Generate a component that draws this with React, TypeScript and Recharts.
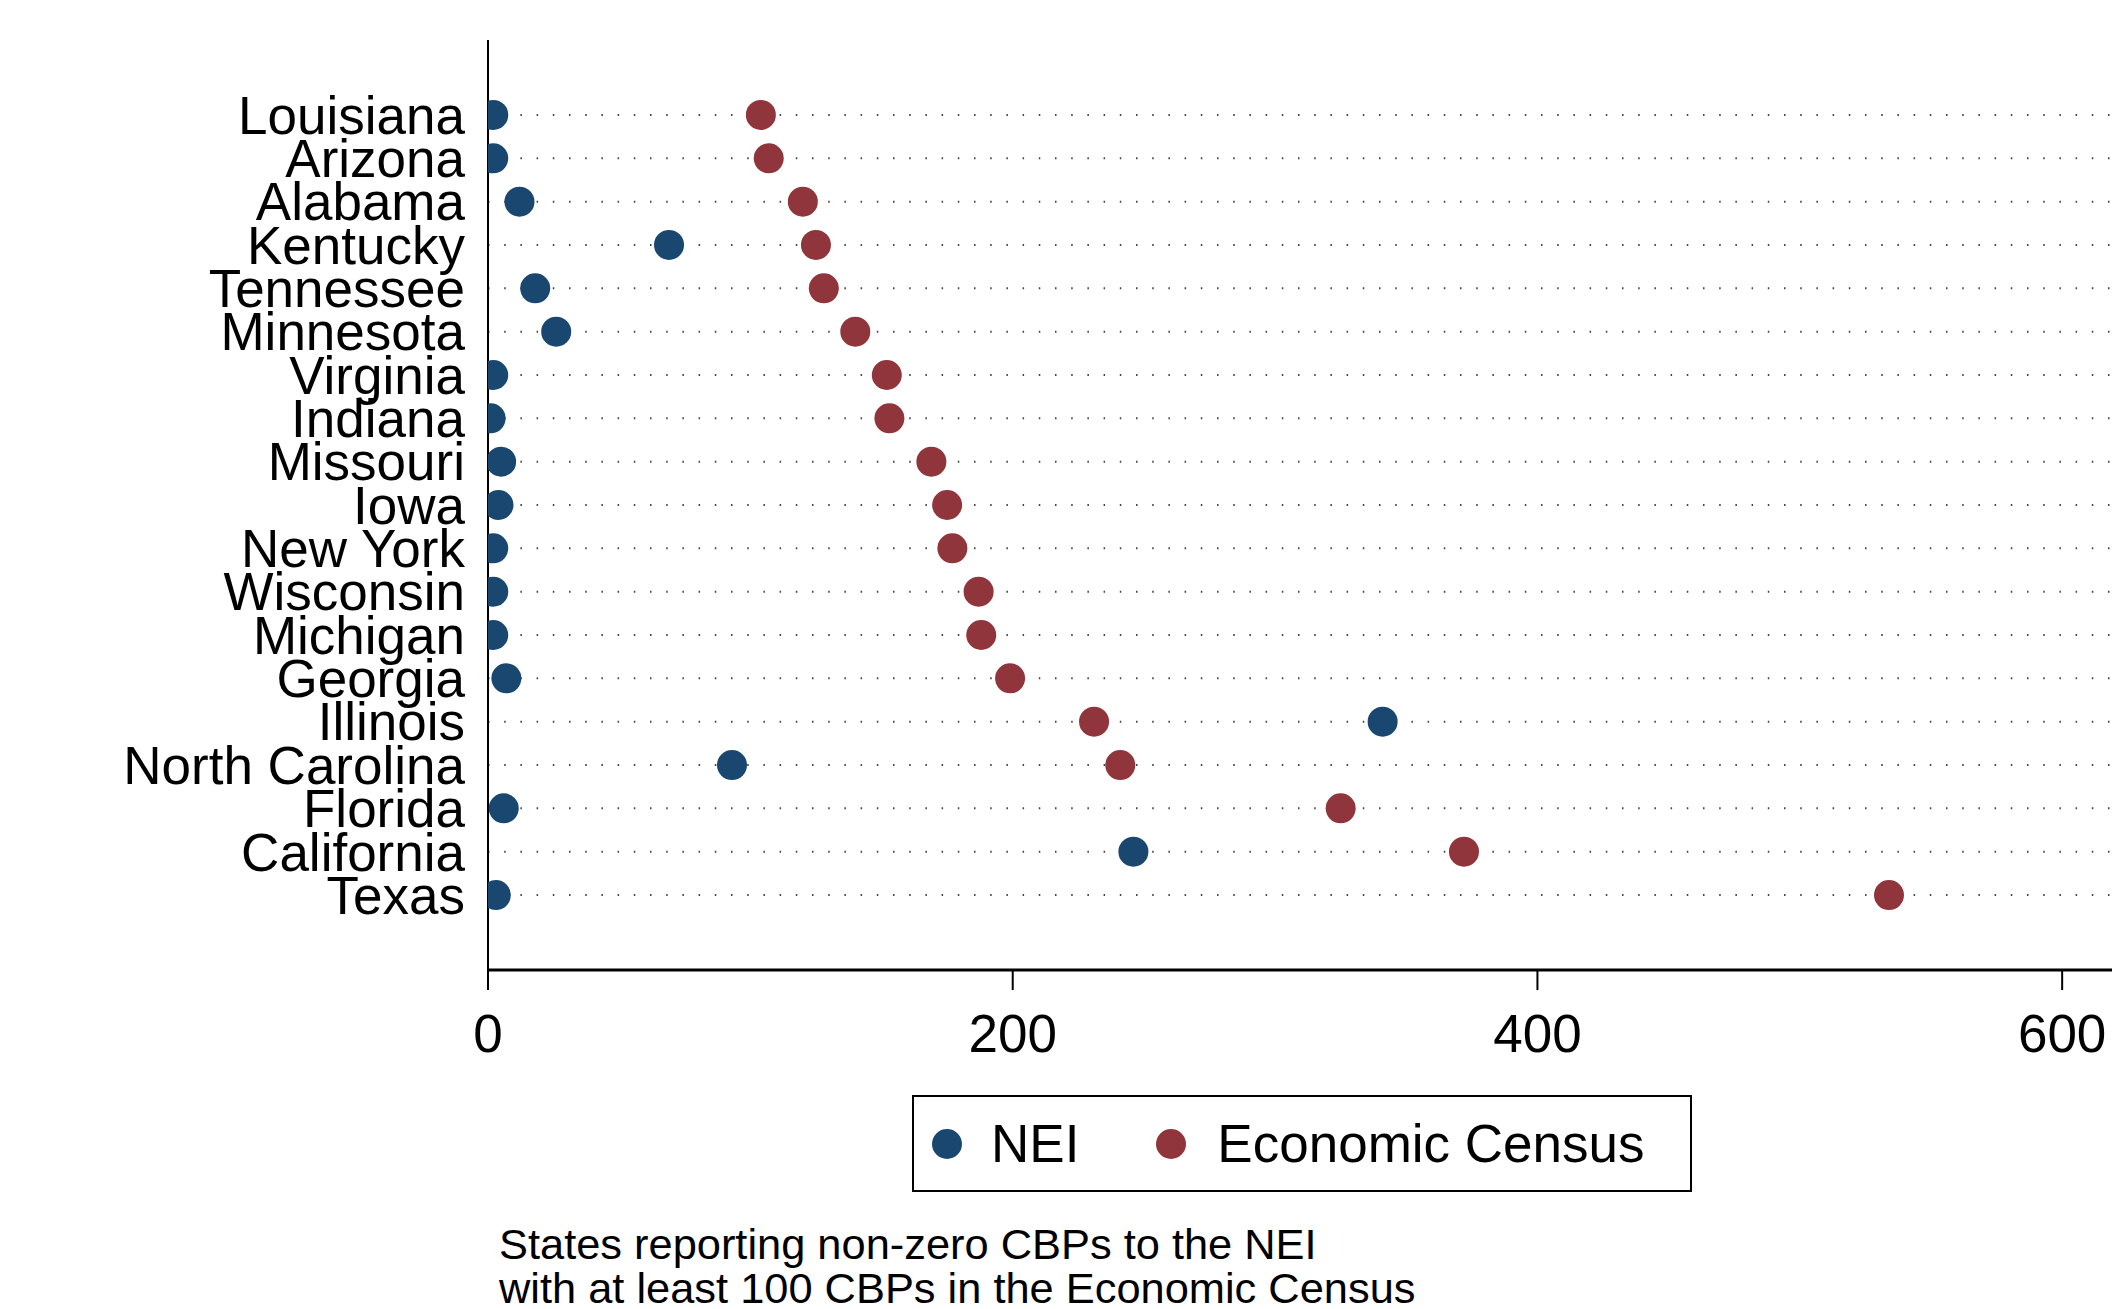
import React from "react";
import {
  ScatterChart,
  Scatter,
  XAxis,
  YAxis,
  ReferenceLine,
  Legend,
} from "recharts";

const states = [
  "Louisiana",
  "Arizona",
  "Alabama",
  "Kentucky",
  "Tennessee",
  "Minnesota",
  "Virginia",
  "Indiana",
  "Missouri",
  "Iowa",
  "New York",
  "Wisconsin",
  "Michigan",
  "Georgia",
  "Illinois",
  "North Carolina",
  "Florida",
  "California",
  "Texas",
];

const neiValues = [2, 2, 12, 69, 18, 26, 2, 1, 5, 4, 2, 2, 2, 7, 341, 93, 6, 246, 3];
const censusValues = [104, 107, 120, 125, 128, 140, 152, 153, 169, 175, 177, 187, 188, 199, 231, 241, 325, 372, 534];

const xTicks = [0, 200, 400, 600];
const seriesNames = ["NEI", "Economic Census"];
const seriesColors = ["#1a476f", "#90353b"];
const noteLines = [
  "States reporting non-zero CBPs to the NEI",
  "with at least 100 CBPs in the Economic Census",
];

const neiData = states.map((s, i) => ({ x: neiValues[i], y: i, state: s }));
const censusData = states.map((s, i) => ({ x: censusValues[i], y: i, state: s }));
const yTicks = states.map((_, i) => i);

const FONT = "'Liberation Sans', Arial, Helvetica, sans-serif";

const makeDot = (color: string) => (props: any) => {
  const { cx, cy } = props;
  if (cx == null || cy == null) return <g />;
  return <circle cx={cx} cy={cy} r={15} fill={color} />;
};

const LegendBox = () => (
  <div
    style={{
      width: 780,
      height: 97,
      border: "2px solid #000",
      boxSizing: "border-box",
      display: "flex",
      alignItems: "center",
      fontFamily: FONT,
      fontSize: 53,
      color: "#000",
      background: "#fff",
    }}
  >
    <svg width={30} height={30} style={{ marginLeft: 18, flex: "none" }}>
      <circle cx={15} cy={15} r={15} fill={seriesColors[0]} />
    </svg>
    <span style={{ marginLeft: 29 }}>{seriesNames[0]}</span>
    <svg width={30} height={30} style={{ marginLeft: 77, flex: "none" }}>
      <circle cx={15} cy={15} r={15} fill={seriesColors[1]} />
    </svg>
    <span style={{ marginLeft: 31 }}>{seriesNames[1]}</span>
  </div>
);

export default function App() {
  return (
    <div style={{ position: "absolute", left: 0, top: 0, width: 2119, height: 1309, background: "#fff" }}>
      <ScatterChart
        width={2119}
        height={1309}
        margin={{ top: 40, right: 7, bottom: 142, left: 288 }}
      >
        {yTicks.map((i) => (
          <ReferenceLine
            key={i}
            y={i}
            stroke="#444"
            strokeWidth={2}
            strokeDasharray="1.5 14.7"
            ifOverflow="extendDomain"
          />
        ))}
        <XAxis
          type="number"
          dataKey="x"
          domain={[0, 619]}
          ticks={xTicks}
          allowDataOverflow
          height={100}
          axisLine={{ stroke: "#000", strokeWidth: 3 }}
          tickLine={{ stroke: "#000", strokeWidth: 2 }}
          tickSize={20}
          tickMargin={24}
          tick={{ fill: "#000", fontSize: 53, fontFamily: FONT }}
        />
        <YAxis
          type="number"
          dataKey="y"
          domain={[-1.73, 19.73]}
          allowDataOverflow
          reversed
          ticks={yTicks}
          interval={0}
          width={200}
          tickFormatter={(v: number) => states[v] ?? ""}
          axisLine={{ stroke: "#000", strokeWidth: 2 }}
          tickLine={false}
          tickSize={15}
          tickMargin={8}
          tick={{ fill: "#000", fontSize: 53, fontFamily: FONT }}
        />
        <Legend
          content={() => <LegendBox />}
          wrapperStyle={{ position: "absolute", left: 912, top: 1095, width: 780, height: 97 }}
        />
        <Scatter
          name={seriesNames[0]}
          data={neiData}
          fill={seriesColors[0]}
          shape={makeDot(seriesColors[0])}
          isAnimationActive={false}
        />
        <Scatter
          name={seriesNames[1]}
          data={censusData}
          fill={seriesColors[1]}
          shape={makeDot(seriesColors[1])}
          isAnimationActive={false}
        />
      </ScatterChart>
      <div
        style={{
          position: "absolute",
          left: 499,
          top: 1222,
          fontFamily: FONT,
          fontSize: 43.4,
          lineHeight: "44px",
          color: "#000",
          whiteSpace: "nowrap",
        }}
      >
        {noteLines.map((l) => (
          <div key={l}>{l}</div>
        ))}
      </div>
    </div>
  );
}
